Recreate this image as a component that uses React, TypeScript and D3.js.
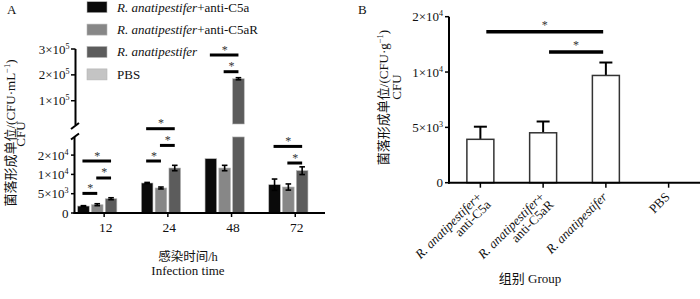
import React from "react";
import * as d3 from "d3";

// ---------- Panel A data ----------
const groupsA = ["12", "24", "48", "72"];
const seriesKeys = ["antiC5a", "antiC5aR", "Ra", "PBS"];
const legendItalic = ["R. anatipestifer", "R. anatipestifer", "R. anatipestifer", ""];
const legendPlain = ["+anti-C5a", "+anti-C5aR", "", "PBS"];
const colorsA = ["#0a0a0a", "#878787", "#5c5c5c", "#c4c4c4"];

const meanAntiC5a = [1800, 7770, 14070, 7330];
const errAntiC5a = [100, 150, 0, 1470];
const meanAntiC5aR = [2150, 6480, 11650, 6730];
const errAntiC5aR = [250, 250, 700, 800];
const meanRa = [3700, 11650, 185000, 10960];
const errRa = [250, 700, 4000, 1000];
const meanPBS = [0, 0, 0, 0];
const errPBS = [0, 0, 0, 0];

const lowerTicks = [0, 5000, 10000, 15000];
const lowerTickMant = ["0", "5", "1", "2"];
const lowerTickExp = ["", "3", "4", "4"];
const upperTicks = [100000, 200000, 300000];
const upperTickMant = ["1", "2", "3"];
const upperTickExp = ["5", "5", "5"];

// significance annotations, panel A: group index, from series, to series, level, segment
const sigGroup = [0, 0, 0, 1, 1, 1, 2, 2, 3, 3];
const sigFrom = [0, 0, 1, 0, 1, 0, 0, 1, 0, 1];
const sigTo = [2, 1, 2, 2, 2, 1, 2, 2, 2, 2];
const sigLevel = [13470, 5080, 9070, 21840, 17510, 13470, 276800, 212200, 17250, 12950];
const sigUpper = [false, false, false, false, false, false, true, true, false, false];

// ---------- Panel B data ----------
const groupsB = ["RaC5a", "RaC5aR", "Ra", "PBS"];
const labelBItalic = [["R. anatipestifer", ""], ["R. anatipestifer", ""], ["R. anatipestifer"], [""]];
const labelBPlain = [["+", "anti-C5a"], ["+", "anti-C5aR"], [""], ["PBS"]];
const meanB = [3920, 4510, 9690, 0];
const errB = [1140, 1020, 1170, 0];
const ticksB = [0, 5000, 10000, 15000];
const tickBMant = ["0", "5", "1", "2"];
const tickBExp = ["", "3", "4", "4"];
const sigBFrom = [0, 1];
const sigBTo = [2, 2];
const sigBLevel = [13630, 11820];

const FONT = "'Liberation Serif', 'Times New Roman', 'Noto Sans CJK SC', serif";

function Sci({ x, y, m, e, anchor = "end", size = 13 }: any) {
  return (
    <text x={x} y={y} textAnchor={anchor} fontSize={size} fontFamily={FONT} fill="#111">
      {e === "" ? m : (
        <>
          {m}×10
          <tspan dy={-5} fontSize={size * 0.62}>{e}</tspan>
        </>
      )}
    </text>
  );
}

export default function App() {
  const means = [meanAntiC5a, meanAntiC5aR, meanRa, meanPBS];
  const errs = [errAntiC5a, errAntiC5aR, errRa, errPBS];

  // Panel A scales
  const x0 = d3.scaleBand().domain(groupsA).range([72.3, 327.1]).paddingInner(0.168).paddingOuter(0.084);
  const x1 = d3.scaleBand().domain(seriesKeys).range([0, x0.bandwidth()]).paddingInner(0.16).paddingOuter(0);
  const yLow = d3.scaleLinear().domain([0, 20000]).range([213, 135.8]);
  const yUp = d3.scaleLinear().domain([10000, 300000]).range([124, 49]);
  const lowerTop = 19700;
  const axisXA = 74.5;

  const barsA: any[] = [];
  const errA: any[] = [];
  groupsA.forEach((g, gi) => {
    seriesKeys.forEach((s, si) => {
      const v = means[si][gi];
      const e = errs[si][gi];
      const bx = (x0(g) as number) + (x1(s) as number);
      const bw = x1.bandwidth();
      const cx = bx + bw / 2;
      if (v <= 0) return;
      if (v <= lowerTop) {
        barsA.push(<rect key={`b${gi}${si}`} x={bx} y={yLow(v)} width={bw} height={yLow(0) - yLow(v)} fill={colorsA[si]} stroke="#b5b5b5" strokeWidth={0.6} />);
        if (e > 0) {
          errA.push(
            <g key={`e${gi}${si}`} stroke="#000" strokeWidth={1.6}>
              <line x1={cx} x2={cx} y1={yLow(v - e)} y2={yLow(v + e)} />
              <line x1={cx - 2.8} x2={cx + 2.8} y1={yLow(v - e)} y2={yLow(v - e)} />
              <line x1={cx - 2.8} x2={cx + 2.8} y1={yLow(v + e)} y2={yLow(v + e)} />
            </g>
          );
        }
      } else {
        barsA.push(<rect key={`bl${gi}${si}`} x={bx} y={yLow(lowerTop)} width={bw} height={yLow(0) - yLow(lowerTop)} fill={colorsA[si]} stroke="#b5b5b5" strokeWidth={0.6} />);
        barsA.push(<rect key={`bu${gi}${si}`} x={bx} y={yUp(v)} width={bw} height={yUp(10000) - yUp(v)} fill={colorsA[si]} stroke="#b5b5b5" strokeWidth={0.6} />);
        if (e > 0) {
          errA.push(
            <g key={`e${gi}${si}`} stroke="#000" strokeWidth={1.6}>
              <line x1={cx} x2={cx} y1={yUp(v - e)} y2={yUp(v + e)} />
              <line x1={cx - 2.8} x2={cx + 2.8} y1={yUp(v - e)} y2={yUp(v - e)} />
              <line x1={cx - 2.8} x2={cx + 2.8} y1={yUp(v + e)} y2={yUp(v + e)} />
            </g>
          );
        }
      }
    });
  });

  const sigA = sigGroup.map((gi, i) => {
    const g = groupsA[gi];
    const xa = (x0(g) as number) + (x1(seriesKeys[sigFrom[i]]) as number) + x1.bandwidth() / 2;
    const xb = (x0(g) as number) + (x1(seriesKeys[sigTo[i]]) as number) + x1.bandwidth() / 2;
    const y = sigUpper[i] ? yUp(sigLevel[i]) : yLow(sigLevel[i]);
    return (
      <g key={`s${i}`}>
        <line x1={xa - 1} x2={xb} y1={y} y2={y} stroke="#000" strokeWidth={3} />
        <text x={(xa + xb) / 2} y={y - 1.5} textAnchor="middle" fontSize={12} fontFamily={FONT} fill="#333">*</text>
      </g>
    );
  });

  // Panel B scales
  const xB = d3.scaleBand().domain(groupsB).range([449, 700]).paddingInner(0.57).paddingOuter(0.285);
  const yB = d3.scaleLinear().domain([0, 15000]).range([182.7, 16.7]);
  const axisXB = 449;
  const bwB = xB.bandwidth();

  return (
    <svg width={700} height={299} style={{ position: "absolute", left: 0, top: 0, background: "#fff" }} fontFamily={FONT}>
      <rect x={0} y={0} width={700} height={299} fill="#fff" />
      {/* ---------------- Panel A ---------------- */}
      <text x={7} y={13.5} fontSize={13} fill="#111">A</text>

      {/* legend */}
      {seriesKeys.map((s, i) => (
        <g key={`lg${i}`}>
          <rect x={87} y={1.7 + i * 22.4} width={20} height={11} fill={colorsA[i]} stroke="#b5b5b5" strokeWidth={0.6} />
          <text x={117} y={11.5 + i * 22.4} fontSize={13} fill="#111">
            {legendItalic[i] !== "" && <tspan fontStyle="italic">{legendItalic[i]}</tspan>}
            {legendPlain[i] !== "" && <tspan>{legendPlain[i]}</tspan>}
          </text>
        </g>
      ))}

      {/* y axis title A */}
      <text transform={`translate(14.5,133) rotate(-90)`} textAnchor="middle" fontSize={13} fill="#111">
        菌落形成单位/(CFU·mL<tspan dy={-5} fontSize={8.5}>−1</tspan><tspan dy={5}>)</tspan>
      </text>
      <text transform={`translate(24.5,134) rotate(-90)`} textAnchor="middle" fontSize={13} fill="#111">CFU</text>

      {barsA}
      {errA}

      {/* y axis A: upper segment */}
      <line x1={axisXA + 1} x2={axisXA + 1} y1={yUp(300000)} y2={125} stroke="#000" strokeWidth={2} />
      {upperTicks.map((t, i) => (
        <g key={`ut${i}`}>
          <line x1={axisXA - 3.5} x2={axisXA + 1} y1={yUp(t)} y2={yUp(t)} stroke="#000" strokeWidth={1.5} />
          <Sci x={axisXA - 5} y={yUp(t) + 4.5} m={upperTickMant[i]} e={upperTickExp[i]} />
        </g>
      ))}
      <line x1={axisXA - 3.5} x2={axisXA + 4.5} y1={129} y2={123} stroke="#000" strokeWidth={2} />
      <line x1={axisXA - 3.5} x2={axisXA + 4.5} y1={139.5} y2={133.5} stroke="#000" strokeWidth={2} />
      {/* lower segment */}
      <line x1={axisXA} x2={axisXA} y1={yLow(lowerTop)} y2={yLow(0) + 1} stroke="#000" strokeWidth={2} />
      {lowerTicks.map((t, i) => (
        <g key={`lt${i}`}>
          <line x1={axisXA - 3.5} x2={axisXA} y1={yLow(t)} y2={yLow(t)} stroke="#000" strokeWidth={1.5} />
          <Sci x={axisXA - 6} y={yLow(t) + 4.5} m={lowerTickMant[i]} e={lowerTickExp[i]} />
        </g>
      ))}
      {/* x axis A */}
      <line x1={axisXA - 1} x2={325} y1={yLow(0)} y2={yLow(0)} stroke="#000" strokeWidth={2} />
      {groupsA.map((g) => {
        const cx = (x0(g) as number) + x0.bandwidth() / 2;
        return (
          <g key={`xt${g}`}>
            <line x1={cx} x2={cx} y1={yLow(0)} y2={yLow(0) + 4} stroke="#000" strokeWidth={1.5} />
            <text x={cx + 1.5} y={yLow(0) + 19} textAnchor="middle" fontSize={13.5} fill="#111">{g}</text>
          </g>
        );
      })}
      <text x={188} y={260.5} textAnchor="middle" fontSize={12.5} fill="#111">感染时间/h</text>
      <text x={188} y={274.5} textAnchor="middle" fontSize={13} fill="#111">Infection time</text>

      {sigA}

      {/* ---------------- Panel B ---------------- */}
      <text x={358} y={14} fontSize={13} fill="#111">B</text>
      <text transform={`translate(388,97.5) rotate(-90)`} textAnchor="middle" fontSize={13} fill="#111">
        菌落形成单位/(CFU·g<tspan dy={-5} fontSize={8.5}>−1</tspan><tspan dy={5}>)</tspan>
      </text>
      <text transform={`translate(400.5,87) rotate(-90)`} textAnchor="middle" fontSize={13} fill="#111">CFU</text>

      {groupsB.map((g, i) => {
        const bx = xB(g) as number;
        const v = meanB[i];
        const e = errB[i];
        const cx = bx + bwB / 2;
        if (v <= 0) return null;
        return (
          <g key={`bb${i}`}>
            <line x1={cx} x2={cx} y1={yB(v)} y2={yB(v + e)} stroke="#000" strokeWidth={2} />
            <line x1={cx - 6.5} x2={cx + 6.5} y1={yB(v + e)} y2={yB(v + e)} stroke="#000" strokeWidth={2} />
            <rect x={bx} y={yB(v)} width={bwB} height={yB(0) - yB(v)} fill="#fff" stroke="#333" strokeWidth={1.5} />
          </g>
        );
      })}

      <line x1={axisXB} x2={axisXB} y1={yB(15000)} y2={yB(0) + 1} stroke="#000" strokeWidth={2} />
      {ticksB.map((t, i) => (
        <g key={`bt${i}`}>
          <line x1={axisXB - 4} x2={axisXB} y1={yB(t)} y2={yB(t)} stroke="#000" strokeWidth={1.5} />
          <Sci x={axisXB - 6} y={yB(t) + 4.5} m={tickBMant[i]} e={tickBExp[i]} />
        </g>
      ))}
      <line x1={axisXB - 1} x2={700} y1={yB(0)} y2={yB(0)} stroke="#000" strokeWidth={2} />
      {groupsB.map((g, i) => {
        const cx = (xB(g) as number) + bwB / 2;
        return (
          <g key={`bx${i}`}>
            <line x1={cx} x2={cx} y1={yB(0)} y2={yB(0) + 5} stroke="#000" strokeWidth={1.5} />
            <g transform={`translate(${cx + 2},${yB(0) + 15}) rotate(-45)`}>
              {labelBItalic[i].map((it, li) => (
                <text key={li} x={li === 0 ? 0 : 1} y={li * 12} textAnchor="end" fontSize={13} fill="#111">
                  {it !== "" && <tspan fontStyle="italic">{it}</tspan>}
                  {labelBPlain[i][li] !== "" && <tspan>{labelBPlain[i][li]}</tspan>}
                </text>
              ))}
            </g>
          </g>
        );
      })}
      <text x={530} y={283} textAnchor="middle" fontSize={13} fill="#111">组别  Group</text>

      {sigBFrom.map((f, i) => {
        const xa = (xB(groupsB[f]) as number) + bwB * 0.72;
        const xb = (xB(groupsB[sigBTo[i]]) as number) + bwB * 0.4;
        const y = yB(sigBLevel[i]);
        return (
          <g key={`sb${i}`}>
            <line x1={xa} x2={xb} y1={y} y2={y} stroke="#000" strokeWidth={3.5} />
            <text x={(xa + xb) / 2} y={y - 3} textAnchor="middle" fontSize={12} fill="#333">*</text>
          </g>
        );
      })}
    </svg>
  );
}
